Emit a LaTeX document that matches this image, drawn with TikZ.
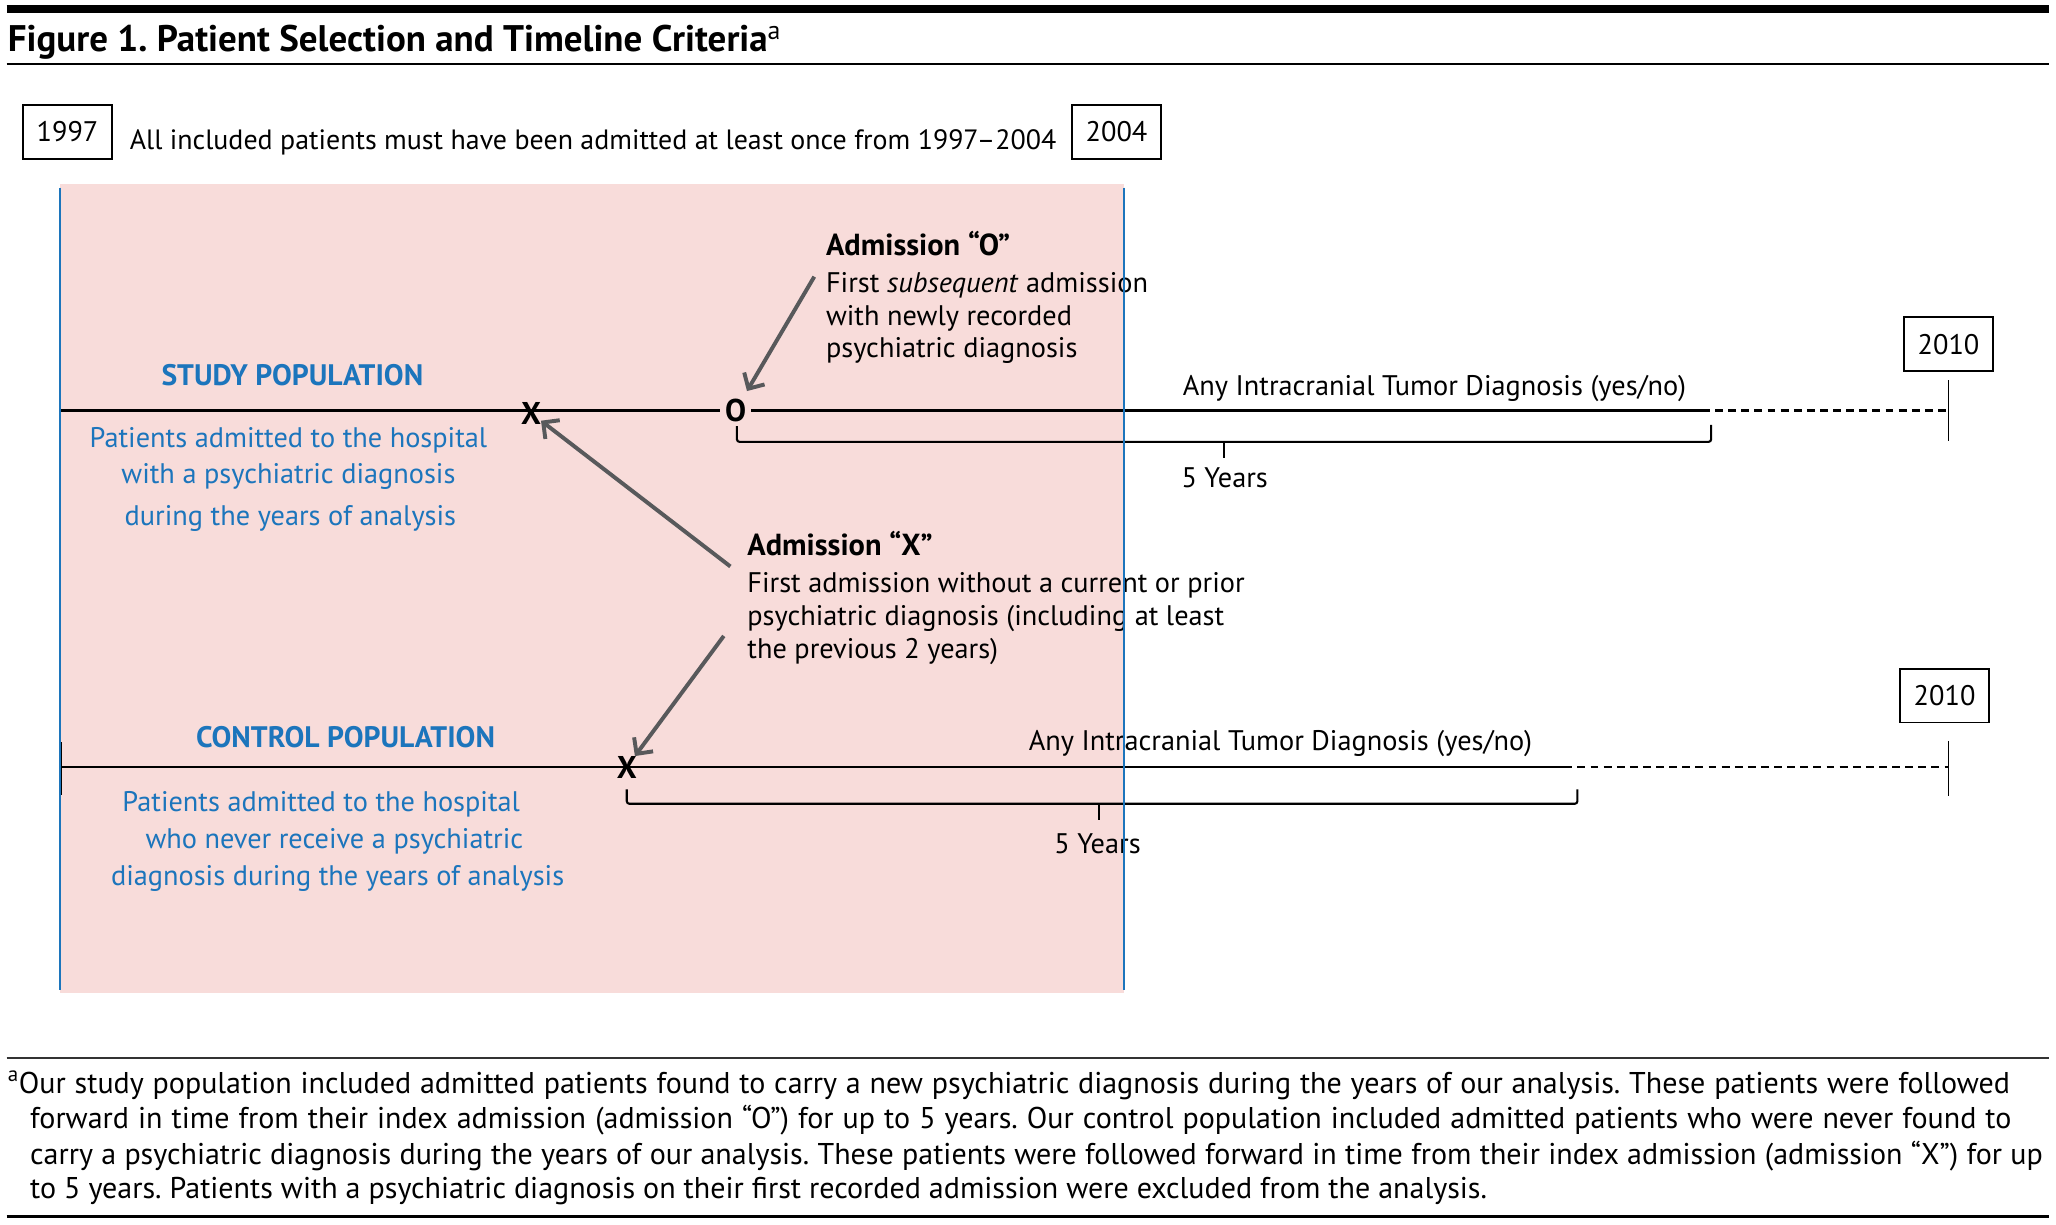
\documentclass[tikz,border=0pt]{standalone}
\usepackage{fontspec}
\setmainfont{PT Sans}
\usetikzlibrary{arrows.meta}
\definecolor{pinkbg}{HTML}{F8DCDA}
\definecolor{popblue}{HTML}{1C75BC}
\definecolor{arrgray}{HTML}{58595B}
\newcommand{\bodysize}{\fontsize{21.6}{25}\selectfont}
\newcommand{\headsize}{\fontsize{22.6}{25}\selectfont}
\newcommand{\notesize}{\fontsize{22.9}{26}\selectfont}
\frenchspacing
\begin{document}
\begin{tikzpicture}[x=1pt,y=-1pt,
  every node/.style={inner sep=0pt, outer sep=0pt, font=\bodysize, text=black},
  lbl/.style={anchor=base west},
  clbl/.style={anchor=base},
  notelbl/.style={anchor=base west, font=\notesize},
  bluetxt/.style={anchor=base, text=popblue},
  bluehead/.style={anchor=base, text=popblue, font=\headsize\bfseries},
  boldlbl/.style={anchor=base west, font=\fontsize{23.2}{25}\selectfont\bfseries},
  yearbox/.style={draw, line width=1.5pt, minimum width=68pt, minimum height=41pt},
  tl/.style={line width=1.8pt},
  dashtl/.style={line width=1.8pt, dash pattern=on 6pt off 4pt},
  brk/.style={line width=1.6pt, rounded corners=2pt},
  tick/.style={line width=1.5pt},
  arr/.style={draw=arrgray, line width=3pt, -{Straight Barb[length=9pt,width=18pt]}},
  marker/.style={font=\fontsize{24}{25}\selectfont\bfseries, anchor=center}
]
\useasboundingbox (0,0) rectangle (1568,934);

% header rules and title
\draw[line width=6pt] (5,7) -- (1563,7);
\node[anchor=base west, font=\fontsize{28.2}{32}\selectfont\bfseries] (title) at (6,39)
  {Figure 1. Patient Selection and Timeline Criteria\textsuperscript{\mdseries a}};
\draw[line width=1.6pt] (5,49) -- (1563,49);

% pink analysis window
\fill[pinkbg] (46,140) rectangle (857,757);

% year boxes and range text
\node[yearbox] (y1997) at (51.5,100.5) {1997};
\node[lbl, font=\fontsize{21.3}{25}\selectfont] (range) at (99,114) {All included patients must have been admitted at least once from 1997–2004};
\node[yearbox] (y2004) at (851.5,100.5) {2004};
\node[yearbox] (s2010) at (1486,262.5) {2010};
\node[yearbox] (c2010) at (1483,530.5) {2010};

% study population timeline
\coordinate (sL) at (46,313);
\node[marker] (sX) at (405,315) {X};
\node[marker, inner xsep=4pt] (sO) at (561,313) {O};
\coordinate (sD) at (1298,313);
\coordinate (sE) at (1486,313);
\draw[tl] (sL) -- (sO.west);
\draw[tl] (sO.east) -- (sD);
\draw[dashtl] (sD) -- (sE);
\draw[tick] ([yshift=23pt]sE) -- ([yshift=-23pt]sE);

\coordinate (sB1) at (562,325);
\coordinate (sB2) at (1305,324);
\coordinate (sBm) at (933.5,337);
\draw[brk] (sB1) |- (sB2 |- sBm) -- (sB2);
\draw[brk] (sBm) -- ++(0,12);

\node[clbl] (sAny) at (1094,302) {Any Intracranial Tumor Diagnosis (yes/no)};
\node[clbl] (s5y) at (934,372) {5 Years};

\node[bluehead] (sHead) at (223,294) {STUDY POPULATION};
\node[bluetxt] (sD1) at (220,341) {Patients admitted to the hospital};
\node[bluetxt] (sD2) at (220,369) {with a psychiatric diagnosis};
\node[bluetxt] (sD3) at (221.5,401) {during the years of analysis};

% admission O
\node[boldlbl] (aOh) at (630,195) {Admission “O”};
\node[lbl] (aO1) at (630,223) {First \textit{subsequent} admission};
\node[lbl] (aO2) at (630,248) {with newly recorded};
\node[lbl] (aO3) at (630,273) {psychiatric diagnosis};
\coordinate (aOs) at (621,211);
\draw[arr, shorten >=7pt] (aOs) -- (sO);

% admission X
\node[boldlbl] (aXh) at (570,424) {Admission “X”};
\node[lbl] (aX1) at (570,452) {First admission without a current or prior};
\node[lbl] (aX2) at (570,477) {psychiatric diagnosis (including at least};
\node[lbl] (aX3) at (570,502) {the previous 2 years)};
\coordinate (aXs1) at (557,432);
\coordinate (aXs2) at (552,485);

% control population timeline
\coordinate (cL) at (46,585);
\node[marker] (cX) at (478,585) {X};
\coordinate (cD) at (1193,585);
\coordinate (cE) at (1486,585);
\draw[tl] (cL) -- (cD);
\draw[dashtl] (cD) -- (cE);
\draw[tick] ([yshift=20pt]cE) -- ([yshift=-22pt]cE);
\draw[line width=2pt] ([yshift=19pt]cL) -- ([yshift=-21pt]cL);

\coordinate (cB1) at (478,602);
\coordinate (cB2) at (1203,602);
\coordinate (cBm) at (838,613);
\draw[brk] (cB1) |- (cB2 |- cBm) -- (cB2);
\draw[brk] (cBm) -- ++(0,12);

\node[clbl] (cAny) at (976.5,572) {Any Intracranial Tumor Diagnosis (yes/no)};
\node[clbl] (c5y) at (837,651) {5 Years};

\node[bluehead] (cHead) at (263.5,570) {CONTROL POPULATION};
\node[bluetxt] (cD1) at (245,619) {Patients admitted to the hospital};
\node[bluetxt] (cD2) at (255,647) {who never receive a psychiatric};
\node[bluetxt] (cD3) at (257.5,675) {diagnosis during the years of analysis};

% arrows from admission X
\draw[arr] (aXs1) -- (sX);
\draw[arr] (aXs2) -- (cX);

% blue window borders
\draw[popblue, line width=1.6pt] (46,143) -- (46,755);
\draw[popblue, line width=1.6pt] (857,143) -- (857,755);

% footnote
\draw[line width=1.5pt, black!80] (5,807) -- (1563,807);
\node[notelbl] (fn1) at (6,834) {\makebox[1527pt][s]{\textsuperscript{a}Our study population included admitted patients found to carry a new psychiatric diagnosis during the years of our analysis. These patients were followed}};
\node[notelbl] (fn2) at (23,861) {\makebox[1511pt][s]{forward in time from their index admission (admission “O”) for up to 5 years. Our control population included admitted patients who were never found to}};
\node[notelbl] (fn3) at (23,888) {\makebox[1535pt][s]{carry a psychiatric diagnosis during the years of our analysis. These patients were followed forward in time from their index admission (admission “X”) for up}};
\node[notelbl] (fn4) at (23,914) {to 5 years. Patients with a psychiatric diagnosis on their first recorded admission were excluded from the analysis.};
\draw[line width=2.2pt] (5,928) -- (1563,928);
\end{tikzpicture}
\end{document}
